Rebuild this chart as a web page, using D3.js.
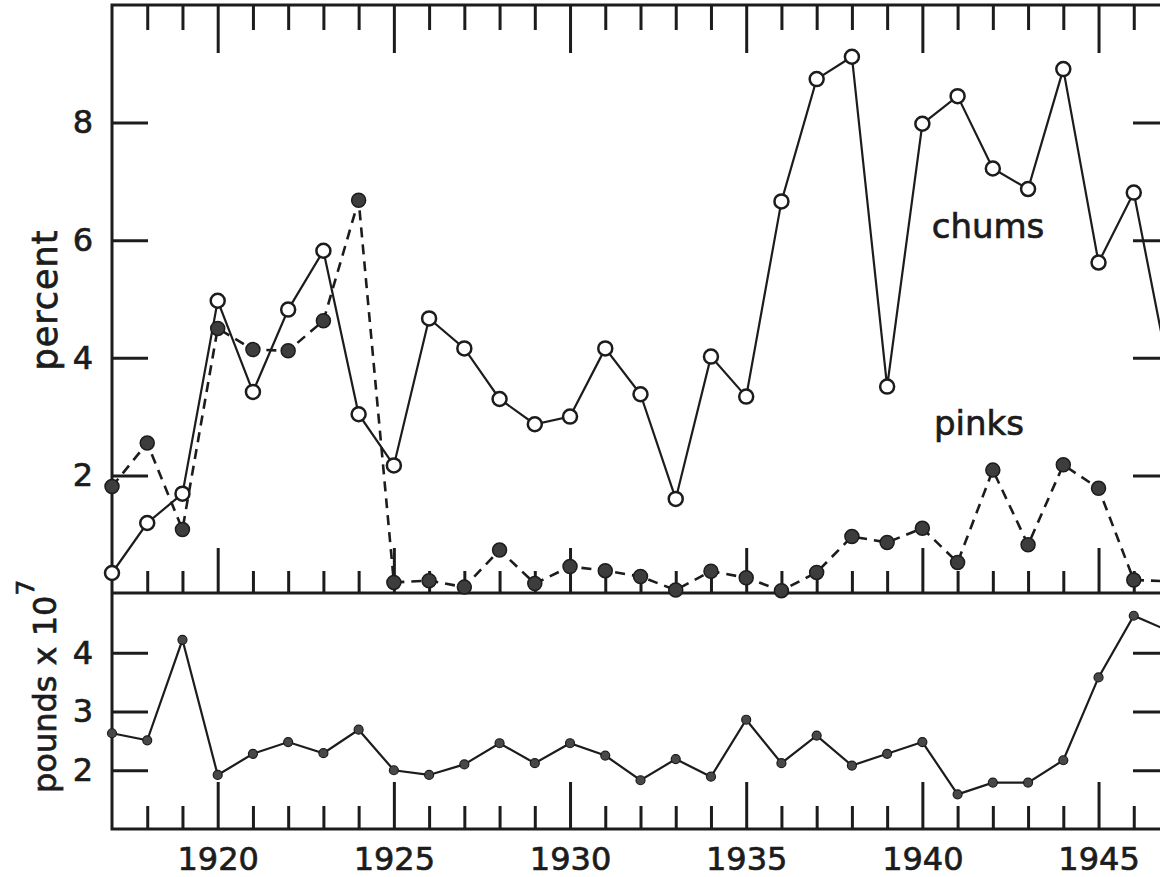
<!DOCTYPE html>
<html>
<head>
<meta charset="utf-8">
<script src="https://cdn.jsdelivr.net/npm/d3@7"></script>
<style>
body { margin: 0; background: #fff; }
svg { display: block; }
</style>
</head>
<body>
<svg width="1160" height="877"></svg>
<script>
// values, one per year 1917..1947
var years = d3.range(1917, 1948);
var chums = [0.34, 1.19, 1.69, 4.97, 3.42, 4.82, 5.82, 3.04, 2.17, 4.67,
             4.16, 3.30, 2.87, 3.00, 4.16, 3.38, 1.60, 4.02, 3.34, 6.66,
             8.74, 9.12, 3.51, 7.98, 8.45, 7.22, 6.87, 8.91, 5.62, 6.81, 3.75];
var pinks = [1.81, 2.55, 1.08, 4.50, 4.14, 4.12, 4.63, 6.68, 0.18, 0.21,
             0.10, 0.73, 0.16, 0.45, 0.38, 0.28, 0.05, 0.37, 0.26, 0.04,
             0.35, 0.96, 0.86, 1.10, 0.52, 2.09, 0.82, 2.18, 1.78, 0.22, 0.20];
var pounds = [2.63, 2.51, 4.22, 1.92, 2.28, 2.48, 2.29, 2.69, 2.00, 1.92,
              2.10, 2.46, 2.12, 2.46, 2.25, 1.83, 2.19, 1.89, 2.86, 2.12,
              2.59, 2.08, 2.28, 2.48, 1.59, 1.79, 1.79, 2.17, 3.58, 4.63, 4.37];

var majorYears = [1920, 1925, 1930, 1935, 1940, 1945];
var minorYears = years.filter(y => y > 1917 && y < 1947 && y % 5 != 0);
var topTicks = [2, 4, 6, 8];
var bottomTicks = [2, 3, 4];

const ink = "#1c1c1c";
const font = "DejaVu Sans";
const svg = d3.select("svg");

var x = d3.scaleLinear().domain([1917, 1947]).range([112, 1169]);
var yTop = d3.scaleLinear().domain([0, 10]).range([593, 5]);
var yBot = d3.scaleLinear().domain([1, 5]).range([829, 594]);

// hand-lettered look: slightly heavier than the regular face
function inked(sel, size) {
    sel.attr("fill", ink)
       .attr("stroke", ink)
       .attr("stroke-width", 0.7)
       .attr("font-family", font)
       .attr("font-size", size);
}

function styleAxis(g) {
    g.select(".domain").remove();
    g.selectAll("line").attr("stroke", ink).attr("stroke-width", 3);
    g.selectAll("text").call(inked, 32);
}

// frame
svg.append("g")
    .attr("fill", "none")
    .attr("stroke", ink)
    .attr("stroke-width", 3)
  .call(g => g.append("rect")
      .attr("x", x(1917)).attr("y", yTop(10))
      .attr("width", x(1947) - x(1917)).attr("height", yBot(1) - yTop(10)))
  .call(g => g.append("line")
      .attr("x1", x(1917)).attr("x2", x(1947))
      .attr("y1", yTop(0)).attr("y2", yTop(0)));

// year ticks: top edge (down), divider (up), bottom edge (up)
function yearTicks(axisFn, y0, vals, len) {
    svg.append("g")
        .attr("transform", "translate(0," + y0 + ")")
        .call(axisFn(x).tickValues(vals).tickSize(len).tickFormat(""))
        .call(styleAxis);
}
yearTicks(d3.axisBottom, yTop(10), minorYears, 25);
yearTicks(d3.axisBottom, yTop(10), majorYears, 48);
yearTicks(d3.axisTop, yTop(0), minorYears, 22);
yearTicks(d3.axisTop, yTop(0), majorYears, 45);
yearTicks(d3.axisTop, yBot(1), minorYears, 23);

// major ticks with labels along the bottom
svg.append("g")
    .attr("transform", "translate(0," + yBot(1) + ")")
    .call(d3.axisBottom(x).tickValues(majorYears)
        .tickSizeInner(-47).tickSizeOuter(0).tickPadding(18).tickFormat(d3.format("d")))
    .call(styleAxis);

// value ticks, left and right
function valueTicks(scale, vals) {
    svg.append("g")
        .attr("transform", "translate(" + x(1917) + ",0)")
        .call(d3.axisLeft(scale).tickValues(vals)
            .tickSizeInner(-36).tickSizeOuter(0).tickPadding(19)
            .tickFormat(d3.format("d")))
        .call(styleAxis);
    svg.append("g")
        .attr("transform", "translate(" + x(1947) + ",0)")
        .call(d3.axisRight(scale).tickValues(vals).tickSize(-36).tickFormat(""))
        .call(styleAxis);
}
valueTicks(yTop, topTicks);
valueTicks(yBot, bottomTicks);

// series
var lineTop = (vals) => d3.line().x((d, i) => x(years[i])).y(d => yTop(d))(vals);

svg.append("path")
    .attr("d", lineTop(chums))
    .attr("fill", "none")
    .attr("stroke", ink)
    .attr("stroke-width", 2.2);

svg.append("path")
    .attr("d", lineTop(pinks))
    .attr("fill", "none")
    .attr("stroke", ink)
    .attr("stroke-width", 2.6)
    .attr("stroke-dasharray", "10,7");

svg.append("path")
    .attr("d", d3.line().x((d, i) => x(years[i])).y(d => yBot(d))(pounds))
    .attr("fill", "none")
    .attr("stroke", ink)
    .attr("stroke-width", 2.2);

svg.append("g")
  .selectAll("circle")
  .data(chums)
  .join("circle")
    .attr("cx", (d, i) => x(years[i]))
    .attr("cy", d => yTop(d))
    .attr("r", 7)
    .attr("fill", "#fff")
    .attr("stroke", ink)
    .attr("stroke-width", 2.5);

svg.append("g")
  .selectAll("circle")
  .data(pinks)
  .join("circle")
    .attr("cx", (d, i) => x(years[i]))
    .attr("cy", d => yTop(d))
    .attr("r", 7)
    .attr("fill", "#3d3d3d")
    .attr("stroke", ink)
    .attr("stroke-width", 1.5);

svg.append("g")
  .selectAll("circle")
  .data(pounds)
  .join("circle")
    .attr("cx", (d, i) => x(years[i]))
    .attr("cy", d => yBot(d))
    .attr("r", 4.5)
    .attr("fill", "#484848")
    .attr("stroke", ink)
    .attr("stroke-width", 1.2);

// labels
svg.append("text")
    .attr("x", 988).attr("y", 238)
    .attr("text-anchor", "middle")
    .call(inked, 34)
    .text("chums");

svg.append("text")
    .attr("x", 979).attr("y", 435)
    .attr("text-anchor", "middle")
    .call(inked, 34)
    .text("pinks");

svg.append("text")
    .attr("transform", "translate(57,300) rotate(-90)")
    .attr("text-anchor", "middle")
    .call(inked, 35)
    .attr("letter-spacing", 1)
    .text("percent");

var pl = svg.append("text")
    .attr("transform", "translate(56,793) rotate(-90)")
    .call(inked, 32);
pl.append("tspan").text("pounds x 10");
pl.append("tspan").attr("dy", -22).attr("font-size", 25).text("7");
</script>
</body>
</html>
